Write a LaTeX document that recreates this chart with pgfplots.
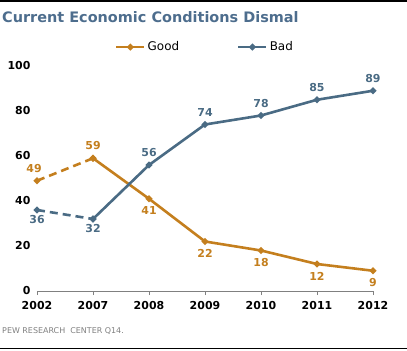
\documentclass[border=0pt]{standalone}
\usepackage{pgfplots}
\pgfplotsset{compat=1.18}
\usepackage{fontspec}
\setmainfont{DejaVu Sans}
\definecolor{good}{HTML}{C47F1E}
\definecolor{bad}{HTML}{4A6B84}
\definecolor{ttl}{HTML}{4D6D8D}
\begin{document}
\begin{tikzpicture}
\path[use as bounding box] (0,0) rectangle (407bp,351bp);
\draw[line width=1.5bp] (0,350bp) -- (407bp,350bp);
\draw[line width=1.5bp] (0,2.5bp) -- (407bp,2.5bp);
\node[anchor=base west, inner sep=0, text=ttl, font=\bfseries\fontsize{14.5}{16}\selectfont] at (2bp,328bp) {Current Economic Conditions Dismal};
\node[anchor=base west, inner sep=0, text=gray, font=\fontsize{8}{9}\selectfont] at (2bp,18bp) {PEW RESEARCH\ \ CENTER Q14.};
\begin{axis}[
  at={(37bp,60bp)}, anchor=south west,
  scale only axis, width=336bp, height=225bp,
  xmin=0, xmax=6, ymin=0, ymax=100,
  clip=false,
  axis x line*=bottom, axis y line*=left,
  y axis line style={draw=none},
  x axis line style={gray, line width=0.8bp},
  xtick={0,...,6},
  xticklabels={2002,2007,2008,2009,2010,2011,2012},
  ytick={0,20,40,60,80,100},
  ytick style={draw=none},
  xtick style={gray, line width=0.8bp},
  xtick align=outside, major tick length=4bp,
  /pgf/number format/assume math mode=true,
  ticklabel style={font=\bfseries\fontsize{11}{12}\selectfont, text=black},
  yticklabel style={xshift=-3bp},
  xticklabel style={yshift=-3bp},
  legend style={at={(0.5,1.084)}, anchor=center, draw=none, fill=none,
     legend columns=2, font=\fontsize{12}{13}\selectfont,
     /tikz/every even column/.append style={column sep=56bp}},
  legend image code/.code={\draw[mark repeat=2,mark phase=2] plot coordinates {(0bp,0bp) (14bp,0bp) (28bp,0bp)};},
  every axis plot/.append style={line width=2.6bp, mark=*, mark size=1.8bp, mark options={solid}},
]
\addplot[good, dashed, dash pattern=on 8bp off 5bp, forget plot] coordinates {(0,49) (1,59)};
\addplot[good] coordinates {(1,59) (2,41) (3,22) (4,18) (5,12) (6,9)};
\addlegendentry{Good}
\addplot[bad, dashed, dash pattern=on 8bp off 5bp, forget plot] coordinates {(0,36) (1,32)};
\addplot[bad] coordinates {(1,32) (2,56) (3,74) (4,78) (5,85) (6,89)};
\addlegendentry{Bad}
% labels
\addplot[draw=none, mark=none, forget plot, point meta=explicit symbolic,
  nodes near coords, nodes near coords style={anchor=center, yshift=12bp, xshift=-3bp, text=good, font=\bfseries\fontsize{11}{12}\selectfont}]
  table[meta=l] {x y l
0 49 49
};
\addplot[draw=none, mark=none, forget plot, point meta=explicit symbolic,
  nodes near coords, nodes near coords style={anchor=center, yshift=13bp, text=good, font=\bfseries\fontsize{11}{12}\selectfont}]
  table[meta=l] {x y l
1 59 59
};
\addplot[draw=none, mark=none, forget plot, point meta=explicit symbolic,
  nodes near coords, nodes near coords style={anchor=center, yshift=-12bp, text=good, font=\bfseries\fontsize{11}{12}\selectfont}]
  table[meta=l] {x y l
2 41 41
3 22 22
4 18 18
5 12 12
6 9 9
};
\addplot[draw=none, mark=none, forget plot, point meta=explicit symbolic,
  nodes near coords, nodes near coords style={anchor=center, yshift=-10bp, text=bad, font=\bfseries\fontsize{11}{12}\selectfont}]
  table[meta=l] {x y l
0 36 36
1 32 32
};
\addplot[draw=none, mark=none, forget plot, point meta=explicit symbolic,
  nodes near coords, nodes near coords style={anchor=center, yshift=12bp, text=bad, font=\bfseries\fontsize{11}{12}\selectfont}]
  table[meta=l] {x y l
2 56 56
3 74 74
4 78 78
5 85 85
6 89 89
};
\end{axis}
\end{tikzpicture}
\end{document}
